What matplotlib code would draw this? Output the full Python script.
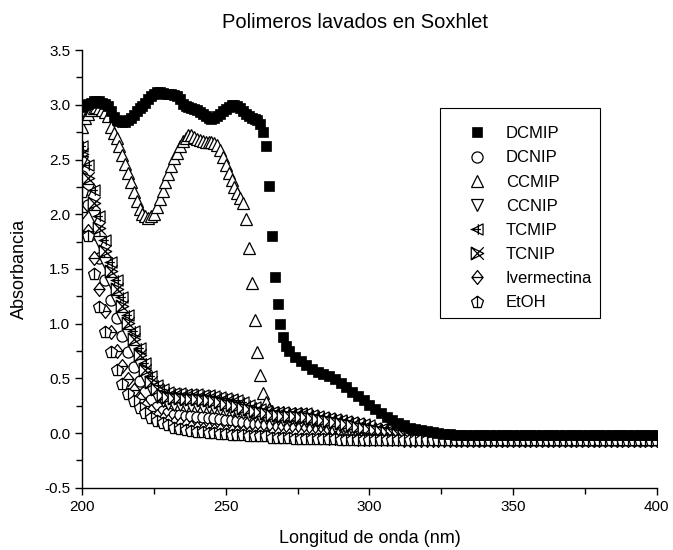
import numpy as np
import matplotlib
matplotlib.use("Agg")
import matplotlib.pyplot as plt
from matplotlib.path import Path
from matplotlib.patches import Rectangle

plt.rcParams['font.family'] = ['Liberation Sans', 'DejaVu Sans']

# ---- data ----
# DCMIP: 1 nm steps up to 272 nm, then 2 nm steps
wl_dcmip = np.concatenate([np.arange(200, 273, 1), np.arange(274, 401, 2)])
dcmip = [
    2.98, 3.00, 3.01, 3.02, 3.03, 3.03, 3.03, 3.02, 3.01, 2.99,
    2.94, 2.89, 2.86, 2.85, 2.84, 2.84, 2.86, 2.88, 2.91, 2.94,
    2.97, 2.99, 3.02, 3.05, 3.08, 3.10, 3.12, 3.12, 3.11, 3.10,
    3.10, 3.10, 3.09, 3.08, 3.05, 3.01, 2.99, 2.98, 2.97, 2.96,
    2.95, 2.93, 2.92, 2.90, 2.88, 2.87, 2.88, 2.90, 2.92, 2.94,
    2.96, 2.98, 3.00, 3.00, 2.99, 2.97, 2.94, 2.92, 2.90, 2.88,
    2.87, 2.86, 2.82, 2.75, 2.62, 2.26, 1.80, 1.43, 1.18, 1.00,
    0.88, 0.80, 0.75,
    0.70, 0.66, 0.62, 0.59, 0.56, 0.54, 0.52, 0.49, 0.46, 0.42,
    0.38, 0.34, 0.30, 0.26, 0.22, 0.18, 0.15, 0.12, 0.09, 0.07,
    0.05, 0.04, 0.03, 0.02, 0.01, 0.00, -0.01, -0.01, -0.02, -0.02,
    -0.02, -0.02, -0.02, -0.02, -0.02, -0.02, -0.02, -0.02, -0.02, -0.02,
    -0.02, -0.02, -0.02, -0.02, -0.02, -0.02, -0.02, -0.02, -0.02, -0.02,
    -0.02, -0.02, -0.02, -0.02, -0.02, -0.02, -0.02, -0.02, -0.02, -0.02,
    -0.02, -0.02, -0.02, -0.02,
]

# CCMIP: 1 nm steps up to 265 nm, then 2 nm steps
wl_ccmip = np.concatenate([np.arange(200, 266, 1), np.arange(266, 401, 2)])
ccmip = [
    2.80, 2.88, 2.92, 2.95, 2.97, 2.98, 2.97, 2.95, 2.93, 2.90,
    2.80, 2.74, 2.70, 2.62, 2.54, 2.46, 2.38, 2.29, 2.20, 2.12,
    2.05, 2.00, 1.98, 1.97, 1.98, 2.00, 2.07, 2.14, 2.21, 2.29,
    2.37, 2.44, 2.51, 2.56, 2.62, 2.67, 2.70, 2.72, 2.72, 2.71,
    2.69, 2.68, 2.67, 2.66, 2.66, 2.66, 2.65, 2.63, 2.59, 2.52,
    2.45, 2.38, 2.31, 2.25, 2.19, 2.15, 2.10, 1.96, 1.69, 1.37,
    1.03, 0.74, 0.53, 0.37, 0.28, 0.22,
    0.20, 0.19, 0.19, 0.18, 0.18, 0.18, 0.17, 0.17, 0.16, 0.15,
    0.14, 0.13, 0.12, 0.11, 0.10, 0.09, 0.08, 0.07, 0.05, 0.04,
    0.03, 0.02, 0.01, 0.00, -0.01, -0.02, -0.03, -0.03, -0.04, -0.04,
    -0.04, -0.05, -0.05, -0.05, -0.05, -0.05, -0.05, -0.05, -0.05, -0.05,
    -0.05, -0.05, -0.05, -0.05, -0.05, -0.05, -0.05, -0.05, -0.05, -0.05,
    -0.05, -0.05, -0.05, -0.05, -0.05, -0.05, -0.05, -0.05, -0.05, -0.05,
    -0.05, -0.05, -0.05, -0.05, -0.05, -0.05, -0.05, -0.05,
]

# the other samples: 2 nm steps over the whole range
wl = np.arange(200, 401, 2)
dcnip = [
    2.35, 2.08, 1.82, 1.60, 1.40, 1.22, 1.05, 0.89, 0.74, 0.60,
    0.48, 0.38, 0.30, 0.24, 0.20, 0.18, 0.17, 0.17, 0.16, 0.16,
    0.15, 0.15, 0.14, 0.14, 0.13, 0.12, 0.12, 0.11, 0.10, 0.09,
    0.08, 0.08, 0.07, 0.07, 0.06, 0.06, 0.05, 0.05, 0.05, 0.04,
    0.04, 0.03, 0.03, 0.02, 0.02, 0.01, 0.01, 0.00, 0.00, -0.01,
    -0.01, -0.02, -0.02, -0.03, -0.03, -0.04, -0.04, -0.04, -0.05, -0.05,
    -0.05, -0.05, -0.05, -0.05, -0.05, -0.06, -0.06, -0.06, -0.06, -0.06,
    -0.06, -0.06, -0.06, -0.06, -0.06, -0.06, -0.06, -0.06, -0.06, -0.06,
    -0.06, -0.06, -0.06, -0.06, -0.06, -0.06, -0.06, -0.06, -0.06, -0.06,
    -0.06, -0.06, -0.06, -0.06, -0.06, -0.06, -0.06, -0.06, -0.06, -0.06,
    -0.06,
]
ccnip = [
    2.48, 2.22, 1.98, 1.75, 1.55, 1.37, 1.21, 1.05, 0.90, 0.75,
    0.62, 0.50, 0.40, 0.33, 0.29, 0.27, 0.26, 0.26, 0.25, 0.25,
    0.25, 0.24, 0.24, 0.23, 0.22, 0.21, 0.20, 0.19, 0.18, 0.17,
    0.16, 0.15, 0.14, 0.13, 0.13, 0.12, 0.12, 0.12, 0.11, 0.11,
    0.10, 0.09, 0.08, 0.07, 0.06, 0.05, 0.04, 0.03, 0.02, 0.01,
    0.00, 0.00, -0.01, -0.02, -0.02, -0.03, -0.03, -0.04, -0.04, -0.05,
    -0.05, -0.05, -0.05, -0.05, -0.05, -0.05, -0.05, -0.06, -0.06, -0.06,
    -0.06, -0.06, -0.06, -0.06, -0.06, -0.06, -0.06, -0.06, -0.06, -0.06,
    -0.06, -0.06, -0.06, -0.06, -0.06, -0.06, -0.06, -0.06, -0.06, -0.06,
    -0.06, -0.06, -0.06, -0.06, -0.06, -0.06, -0.06, -0.06, -0.06, -0.06,
    -0.06,
]
tcmip = [
    2.62, 2.45, 2.22, 1.98, 1.76, 1.56, 1.40, 1.24, 1.08, 0.93,
    0.78, 0.64, 0.52, 0.44, 0.40, 0.38, 0.37, 0.37, 0.36, 0.36,
    0.36, 0.35, 0.35, 0.34, 0.33, 0.32, 0.31, 0.30, 0.28, 0.26,
    0.24, 0.22, 0.20, 0.19, 0.19, 0.19, 0.18, 0.18, 0.18, 0.18,
    0.17, 0.16, 0.15, 0.14, 0.13, 0.12, 0.11, 0.10, 0.09, 0.08,
    0.07, 0.05, 0.04, 0.02, 0.01, 0.00, -0.01, -0.02, -0.03, -0.03,
    -0.04, -0.04, -0.04, -0.05, -0.05, -0.05, -0.05, -0.05, -0.05, -0.05,
    -0.05, -0.05, -0.05, -0.05, -0.05, -0.05, -0.05, -0.05, -0.05, -0.05,
    -0.05, -0.05, -0.05, -0.05, -0.05, -0.05, -0.05, -0.05, -0.05, -0.05,
    -0.05, -0.05, -0.05, -0.05, -0.05, -0.05, -0.05, -0.05, -0.05, -0.05,
    -0.05,
]
tcnip = [
    2.55, 2.33, 2.10, 1.87, 1.66, 1.48, 1.32, 1.16, 1.01, 0.86,
    0.71, 0.58, 0.47, 0.40, 0.35, 0.33, 0.32, 0.32, 0.31, 0.31,
    0.31, 0.30, 0.30, 0.29, 0.28, 0.27, 0.26, 0.25, 0.23, 0.22,
    0.20, 0.19, 0.18, 0.17, 0.17, 0.16, 0.16, 0.16, 0.15, 0.15,
    0.14, 0.13, 0.12, 0.11, 0.10, 0.09, 0.08, 0.07, 0.06, 0.05,
    0.04, 0.03, 0.02, 0.01, 0.00, -0.01, -0.02, -0.03, -0.03, -0.04,
    -0.04, -0.05, -0.05, -0.05, -0.05, -0.05, -0.05, -0.05, -0.06, -0.06,
    -0.06, -0.06, -0.06, -0.06, -0.06, -0.06, -0.06, -0.06, -0.06, -0.06,
    -0.06, -0.06, -0.06, -0.06, -0.06, -0.06, -0.06, -0.06, -0.06, -0.06,
    -0.06, -0.06, -0.06, -0.06, -0.06, -0.06, -0.06, -0.06, -0.06, -0.06,
    -0.06,
]
ivermectina = [
    2.02, 1.85, 1.60, 1.32, 1.12, 0.92, 0.75, 0.61, 0.49, 0.39,
    0.31, 0.25, 0.20, 0.16, 0.13, 0.11, 0.09, 0.08, 0.07, 0.06,
    0.05, 0.04, 0.04, 0.03, 0.03, 0.02, 0.02, 0.01, 0.01, 0.00,
    0.00, 0.00, -0.01, -0.01, -0.01, -0.02, -0.02, -0.02, -0.02, -0.03,
    -0.03, -0.03, -0.03, -0.04, -0.04, -0.04, -0.04, -0.04, -0.05, -0.05,
    -0.05, -0.05, -0.05, -0.05, -0.05, -0.05, -0.06, -0.06, -0.06, -0.06,
    -0.06, -0.06, -0.06, -0.06, -0.06, -0.06, -0.06, -0.06, -0.06, -0.06,
    -0.06, -0.06, -0.06, -0.06, -0.06, -0.06, -0.06, -0.06, -0.06, -0.06,
    -0.06, -0.06, -0.06, -0.06, -0.06, -0.06, -0.06, -0.06, -0.06, -0.06,
    -0.06, -0.06, -0.06, -0.06, -0.06, -0.06, -0.06, -0.06, -0.06, -0.06,
    -0.06,
]
etoh = [
    2.20, 1.80, 1.45, 1.15, 0.92, 0.74, 0.58, 0.45, 0.36, 0.29,
    0.23, 0.18, 0.14, 0.11, 0.09, 0.07, 0.05, 0.04, 0.03, 0.02,
    0.01, 0.01, 0.00, 0.00, -0.01, -0.01, -0.02, -0.02, -0.02, -0.03,
    -0.03, -0.03, -0.03, -0.04, -0.04, -0.04, -0.04, -0.05, -0.05, -0.05,
    -0.05, -0.05, -0.05, -0.05, -0.05, -0.06, -0.06, -0.06, -0.06, -0.06,
    -0.06, -0.06, -0.06, -0.06, -0.06, -0.06, -0.06, -0.06, -0.06, -0.06,
    -0.06, -0.06, -0.06, -0.06, -0.06, -0.06, -0.06, -0.06, -0.06, -0.06,
    -0.06, -0.06, -0.06, -0.06, -0.06, -0.06, -0.06, -0.06, -0.06, -0.06,
    -0.06, -0.06, -0.06, -0.06, -0.06, -0.06, -0.06, -0.06, -0.06, -0.06,
    -0.06, -0.06, -0.06, -0.06, -0.06, -0.06, -0.06, -0.06, -0.06, -0.06,
    -0.06,
]


def marker_path(outline, strokes=()):
    """closed outline + extra open strokes (Origin style interior marks)"""
    verts = list(outline) + [outline[0]]
    codes = [Path.MOVETO] + [Path.LINETO] * (len(outline) - 1) + [Path.CLOSEPOLY]
    for a, b in strokes:
        verts += [a, b]
        codes += [Path.MOVETO, Path.LINETO]
    return Path(verts, codes)


# left triangle with a plus inside
m_tcmip = marker_path([(-1, 0), (1, 1), (1, -1)],
                      [((0.15, -0.95), (0.15, 0.95)), ((-1.25, 0), (0.6, 0))])
# right triangle with an X inside
m_tcnip = marker_path([(-1, 1), (-1, -1), (1, 0)],
                      [((-1, -1), (1, 1)), ((-1, 1), (1, -1))])
# diamond with a dash
m_iver = marker_path([(0, 1), (-0.8, 0), (0, -1), (0.8, 0)],
                     [((-0.8, 0), (0.8, 0))])
# pentagon with a bar
m_etoh = marker_path([(0, 1), (-0.951, 0.309), (-0.588, -0.809),
                      (0.588, -0.809), (0.951, 0.309)],
                     [((0, -0.809), (0, 1))])

fig = plt.figure(figsize=(6.73, 5.5), dpi=100)
ax = fig.add_axes([0.122, 0.113, 0.854, 0.796])

kw = dict(linestyle='none', markeredgecolor='black', markerfacecolor='white',
          markeredgewidth=0.9)
ax.plot(wl_dcmip, dcmip, marker='s', ms=6.5, linestyle='none', color='black',
        markeredgewidth=0.5, label='DCMIP', zorder=3)
ax.plot(wl, dcnip, marker='o', ms=8, label='DCNIP', **kw)
ax.plot(wl_ccmip, ccmip, marker='^', ms=9, label='CCMIP', **kw)
ax.plot(wl, ccnip, marker='v', ms=9, label='CCNIP', **kw)
ax.plot(wl, tcmip, marker=m_tcmip, ms=10, label='TCMIP', **kw)
ax.plot(wl, tcnip, marker=m_tcnip, ms=9, label='TCNIP', **kw)
ax.plot(wl, ivermectina, marker=m_iver, ms=10, label='Ivermectina', **kw)
ax.plot(wl, etoh, marker=m_etoh, ms=9, label='EtOH', **kw)

ax.set_xlim(200, 400)
ax.set_ylim(-0.5, 3.5)
ax.set_xticks([200, 250, 300, 350, 400])
ax.set_xticks([225, 275, 325, 375], minor=True)
ax.set_yticks(np.arange(-0.5, 3.51, 0.5))
ax.set_yticks(np.arange(-0.25, 3.5, 0.5), minor=True)
ax.set_yticklabels([f'{v:.1f}' for v in np.arange(-0.5, 3.51, 0.5)])
ax.tick_params(which='both', direction='out', width=1, labelsize=11, colors='black')
ax.tick_params(which='major', length=5)
ax.tick_params(which='minor', length=4)
ax.spines['top'].set_visible(False)
ax.spines['right'].set_visible(False)
ax.spines['left'].set_linewidth(1)
ax.spines['bottom'].set_linewidth(1)

ax.set_xlabel('Longitud de onda (nm)', fontsize=13, labelpad=12)
ax.set_ylabel('Absorbancia', fontsize=13, labelpad=12)
fig.text(355 / 673, 1 - 22 / 550, 'Polimeros lavados en Soxhlet',
         fontsize=14.5, ha='center', va='center')

# legend entries without their own frame, plus the box drawn separately
leg = ax.legend(loc='upper left', bbox_to_anchor=(0.6657, 0.8258), numpoints=1,
                fontsize=12, frameon=False, handlelength=1.464,
                handletextpad=1.008, labelspacing=0.55, borderpad=0,
                borderaxespad=0)
ax.add_patch(Rectangle((0.6226, 0.3881), 0.278, 0.4795, transform=ax.transAxes,
                       fill=False, edgecolor='black', linewidth=0.8,
                       clip_on=False, zorder=5))

fig.savefig('out.png', dpi=100)
